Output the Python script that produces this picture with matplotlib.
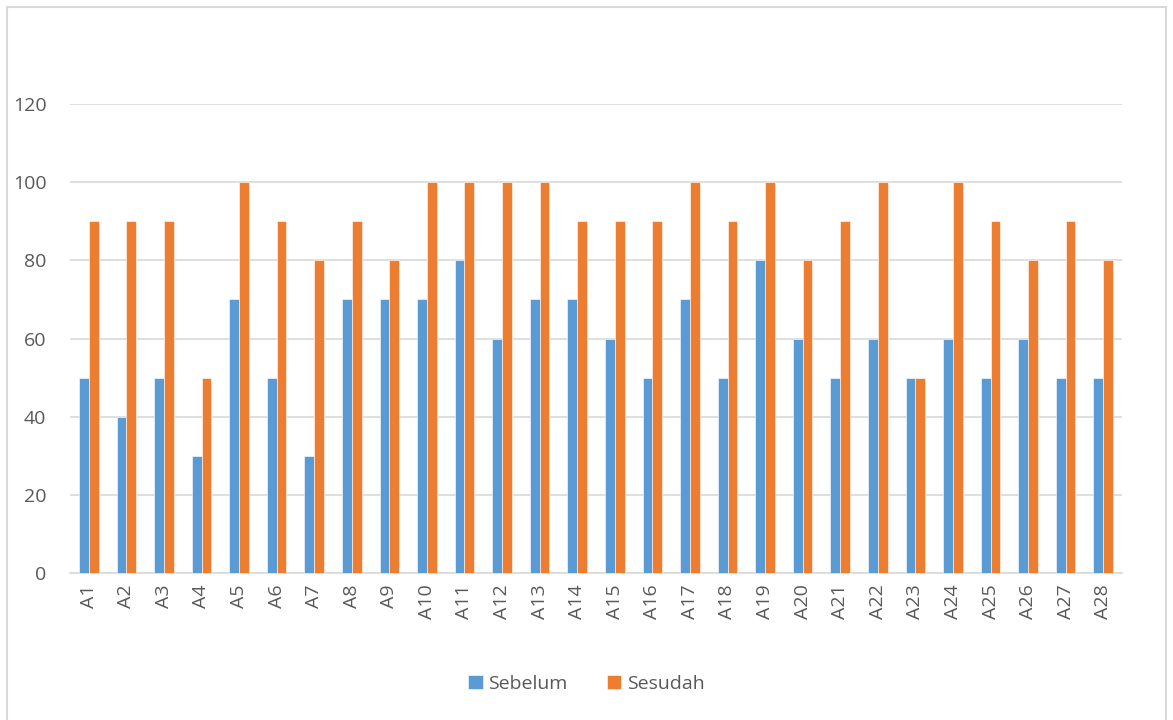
import matplotlib
matplotlib.use("Agg")
import matplotlib.pyplot as plt
from matplotlib.patches import Rectangle
import numpy as np

categories = [f"A{i}" for i in range(1, 29)]
sebelum = [50, 40, 50, 30, 70, 50, 30, 70, 70, 70, 80, 60, 70, 70,
           60, 50, 70, 50, 80, 60, 50, 60, 50, 60, 50, 60, 50, 50]
sesudah = [90, 90, 90, 50, 100, 90, 80, 90, 80, 100, 100, 100, 100, 90,
           90, 90, 100, 90, 100, 80, 90, 100, 50, 100, 90, 80, 90, 80]
yticks = [0, 20, 40, 60, 80, 100, 120]

blue = "#5B9BD5"
orange = "#ED7D31"
text_color = "#595959"
grid_color = "#D9D9D9"

plt.rcParams["font.family"] = ["Open Sans", "DejaVu Sans"]

fig = plt.figure(figsize=(11.73, 7.2), dpi=100)
ax = fig.add_axes([70 / 1173, 1 - 573 / 720, (1122 - 70) / 1173, (573 - 104) / 720])

# outer chart frame
fig.patches.append(Rectangle((7 / 1173, -0.01), (1166 - 7) / 1173, 1 - 7 / 720 + 0.01,
                             transform=fig.transFigure, fill=False,
                             edgecolor="#D9D9D9", linewidth=1.5))

x = np.arange(len(categories))
w = 0.26
ax.bar(x - w / 2, sebelum, width=w, color=blue, edgecolor="white", linewidth=0.4,
       label="Sebelum", zorder=3)
ax.bar(x + w / 2, sesudah, width=w, color=orange, edgecolor="white", linewidth=0.4,
       label="Sesudah", zorder=3)

ax.set_xlim(-0.5, len(categories) - 0.5)
ax.set_ylim(0, 120)
ax.set_yticks(yticks)
ax.set_xticks(x)
ax.set_xticklabels(categories, rotation=90)
ax.tick_params(axis="both", length=0, labelsize=14, colors=text_color)
ax.tick_params(axis="y", pad=17)
ax.tick_params(axis="x", pad=8)
ax.grid(axis="y", color=grid_color, linewidth=1.2, zorder=0)
for s in ["top", "right", "left"]:
    ax.spines[s].set_visible(False)
ax.spines["bottom"].set_color(grid_color)
ax.spines["bottom"].set_linewidth(1.2)

fig.legend(loc="center", bbox_to_anchor=(0.5, 1 - 684 / 720), ncol=2, frameon=False,
           fontsize=14, labelcolor=text_color, handlelength=0.75, handleheight=0.75,
           handletextpad=0.3, columnspacing=2.0)

fig.savefig("out.png", dpi=100, facecolor="white")
